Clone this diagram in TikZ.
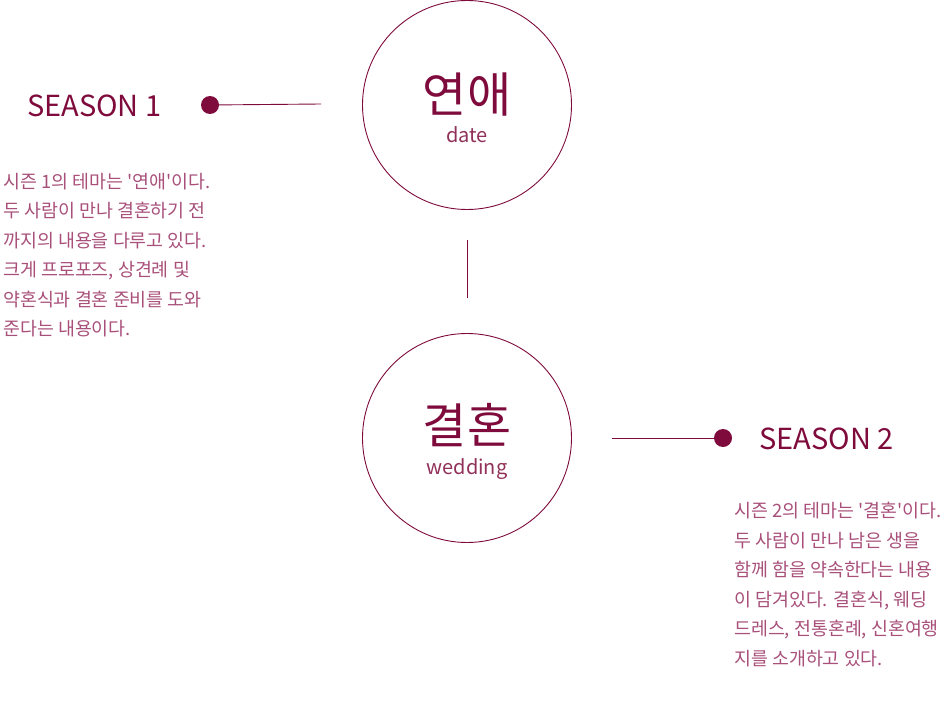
\documentclass[tikz,border=0pt]{standalone}
\usepackage{fontspec}
\newfontfamily\krfont{Noto Sans CJK KR}
\usetikzlibrary{positioning}
\definecolor{seasonred}{HTML}{7E0B3C}
\definecolor{softred}{HTML}{A8507A}

\begin{document}
\begin{tikzpicture}[x=1pt,y=-1pt,font=\krfont,
  theme/.style={circle,draw=seasonred,line width=0.9pt,minimum size=209pt,inner sep=0pt},
  dot/.style={circle,fill=seasonred,minimum size=18pt,inner sep=0pt},
  title/.style={text=seasonred,inner sep=0pt,font={\krfont\fontsize{48pt}{52pt}\selectfont}},
  subtitle/.style={text=seasonred!85,inner sep=0pt,font={\krfont\fontsize{20pt}{24pt}\selectfont}},
  season/.style={text=seasonred,inner sep=0pt,font={\krfont\fontsize{29pt}{33pt}\selectfont}},
  story/.style={text=softred,inner sep=0pt,align=left,font={\krfont\fontsize{18.4pt}{29.5pt}\selectfont}},
  link/.style={draw=seasonred,line width=0.9pt}]
  \useasboundingbox (0,0) rectangle (945,706);
  % season 1
  \node[theme] (date) at (467,105) {};
  \node[title] (dateword) at (467,95) {연애};
  \node[subtitle] (datesub) at (467,135) {date};
  \node[season,anchor=west] (s1) at (27,106) {SEASON 1};
  \node[dot] (dot1) at (210,105) {};
  \coordinate (end1) at (321,104);
  \draw[link] (dot1.center) -- (end1);
  \node[story,anchor=north west] (story1) at (3,173)
    {시즌 1의 테마는 '연애'이다.\\두 사람이 만나 결혼하기 전\\까지의 내용을 다루고 있다.\\크게 프로포즈, 상견례 및\\약혼식과 결혼 준비를 도와\\준다는 내용이다.};
  % season 2
  \node[theme] (wed) at (467,438) {};
  \node[title] (wedword) at (467,425) {결혼};
  \node[subtitle] (wedsub) at (467,469) {wedding};
  \node[dot] (dot2) at (723,438) {};
  \coordinate (end2) at (612,438);
  \draw[link] (end2) -- (dot2.center);
  \node[season,anchor=west] (s2) at (759,439) {SEASON 2};
  \node[story,anchor=north west] (story2) at (734,502)
    {시즌 2의 테마는 '결혼'이다.\\두 사람이 만나 남은 생을\\함께 함을 약속한다는 내용\\이 담겨있다. 결혼식, 웨딩\\드레스, 전통혼례, 신혼여행\\지를 소개하고 있다.};
  % between the two
  \draw[link] ([yshift=-30pt]date.south) -- ([yshift=35pt]wed.north);
\end{tikzpicture}
\end{document}
